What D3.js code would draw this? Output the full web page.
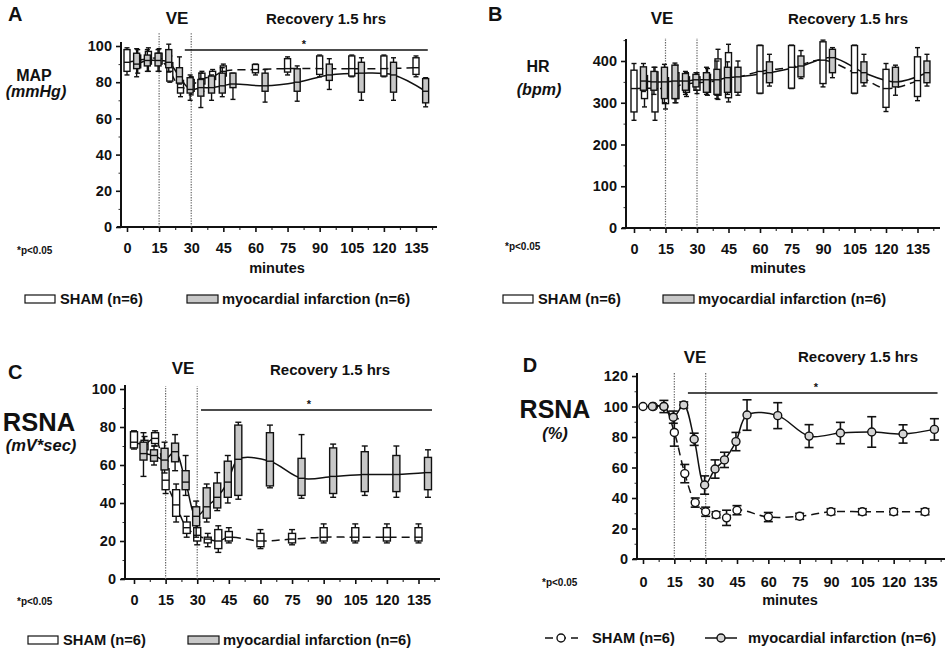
<!DOCTYPE html>
<html><head><meta charset="utf-8">
<script src="https://cdn.jsdelivr.net/npm/d3@7"></script>
<style>
body{margin:0;background:#fff;}
svg text{font-family:"Liberation Sans",Arial,sans-serif;font-weight:bold;fill:#111;}
</style></head><body>
<svg id="c" width="948" height="661"></svg>
<script>
// ---------------- DATA ----------------
const minuteTicks = [0,15,30,45,60,75,90,105,120,135];
const minorTicks = [7.5,22.5,37.5,52.5,67.5,82.5,97.5,112.5,127.5,142.5];
const timesSham = [0,5,10,15,20,25,30,35,40,45,60,75,90,105,120,135];
const timesMI = [4.5,9.5,14.5,19.5,24.5,29.5,34.5,39.5,44.5,49.5,64.5,79.5,94.5,109.5,124.5,139.5];
// box stats: [low whisker, q1, median, q3, high whisker]
const mapSham = [[84,86,91,98,99],[85,88,92,95,98],[86,90,93,97,99],[86,90,93,96,98.5],[80,80.6,86,90.8,94.5],[72,74,77,81,83],[73,75,78,81.5,83],[75,79,82,85,86],[78,81.5,83,86,87],[80,83.4,86,89,90],[84,85.2,87,89.8,90],[84,85.6,87.5,93,94],[83,84.3,87.5,94.5,95],[83,83.4,87.5,94.5,95],[83,83.4,87.5,94.5,95],[83,84.3,88,93.5,94.5]];
const mapMI = [[83,87.5,90,96,98.5],[86,89,92,95,98],[86,89,92,96,98],[85.6,88,91,98,101],[79,79.5,83,88,94],[70,74,76,82.5,84],[66,72.3,77,81.5,85],[70,74,77,83.4,84],[72,74,78,85,88],[70.5,77,79,85,85],[69,75,78,85,87],[69.5,75,80,87.4,89],[76,81,84,90,93],[70,74.5,85,91,93.5],[70,74.5,84,91,93.5],[66.4,68.6,75,82,82.5]];
const hrSham = [[258,278,334,378,394],[290,310,335,365,380],[258,278,334,374,385],[285,298,335,360,372],[300,310,340,372,390],[315,325,345,362,372],[322,330,348,362,372],[318,325,350,368,382],[308,318,352,405,428],[302,312,355,420,440],[322,323,375,437,438],[334,335,385,437,438],[338,346,402,446,450],[322,323,372,437,438],[279,289,334,380,394],[305,315,353,410,432]];
const hrMI = [[327,330,352,386,394],[320,330,350,375,385],[300,310,350,385,392],[300,310,352,390,395],[320,330,352,370,375],[330,338,355,368,372],[320,325,355,372,385],[310,320,355,380,400],[320,325,360,385,398],[318,325,362,385,400],[340,348,372,398,416],[358,362,388,412,425],[360,372,408,428,432],[340,348,372,398,416],[318,338,350,385,390],[340,348,372,400,416]];
const rsnaSham = [[68.4,69,72,77.5,78],[66,68,71,73,75],[70,71.3,74,77,78],[45,47,52,58,62],[30,33,39,47,50],[22,24,27,30,33],[18,20,23,27,30],[17,19,21,22,24],[14,16,20,26,28],[19,20,22,25,27],[16,17,20,24,26],[18,19,21,24,26],[19,20,22,27,29],[19,20,22,27,29],[19,20,22,27,29],[19,20,22,27,29]];
const rsnaMI = [[54,62.6,66,72,77],[60,62,65,68,70],[55.8,57.4,62.6,68.8,72],[57,61.7,67,71.5,76],[44,47,51,57,65],[22,28,33,38,41],[30,32,38,48,50],[36,37.4,43,50.5,56],[40,43,51,62,65],[42,44,63,81,82.5],[48,49,62,77,81],[42.5,44,53,63.5,76],[43,45,54,69,71],[44,46,55,67,70],[43,46,55,65,70],[43,47,56,64,68]];
// panel D: mean and error
const pctTimesSham = [0,5,10,15,20,25,30,35,40,45,60,75,90,105,120,135];
const pctSham = [100,100,100,83,56,37,31,29,27,32,27.5,28,31,31,31,31];
const pctShamErr = [0,0,4,9,6,3,3,2,5,3,3,2,2,2,2,2];
const pctTimesMI = [4.5,10,14.5,19.5,24.5,29.5,34.5,39,44.5,49.8,64.5,79.5,94.5,109.5,124.5,139.5];
const pctMI = [100,100,93,101,78.5,48.5,59,65,77,94.4,94,80.6,82.6,83.3,82,85];
const pctMIErr = [0,0,4,2,4,6,6,5,6,10,8.5,7.5,7,10,6,7];

// ---------------- DRAW ----------------
const svg = d3.select("#c");
const FONT = '"Liberation Sans",Arial,sans-serif';
const TICKFS = "14.5px";

function txt(x, y, s, size, opts={}) {
  const t = svg.append("text").attr("x", x).attr("y", y).text(s)
    .style("font-size", size + "px")
    .attr("text-anchor", opts.anchor || "start");
  if (opts.italic) t.style("font-style", "italic");
  return t;
}

function panelFrame(cfg) {
  const x = d3.scaleLinear().domain([0,135]).range(cfg.xr);
  const y = d3.scaleLinear().domain(cfg.yd).range(cfg.yr);
  const g = svg.append("g");
  const x0 = cfg.axisX, yb = y(0), ytop = cfg.yTop;
  const ya = g.append("g").attr("transform", `translate(${x0},0)`)
    .call(d3.axisLeft(y).tickValues(cfg.yTicks).tickSize(5).tickSizeOuter(0).tickPadding(4));
  ya.select(".domain").remove();
  ya.selectAll("line").attr("stroke","#111").attr("stroke-width",1.6);
  ya.selectAll("text").style("font-size",TICKFS).style("font-family",FONT).style("font-weight","bold");
  const ym = g.append("g").attr("transform", `translate(${x0},0)`)
    .call(d3.axisLeft(y).tickValues(cfg.yMinor).tickSize(2.5).tickFormat(""));
  ym.select(".domain").remove();
  ym.selectAll("line").attr("stroke","#333").attr("stroke-width",1);
  g.append("line").attr("x1",x0).attr("x2",x0).attr("y1",yb+1).attr("y2",ytop)
    .attr("stroke","#111").attr("stroke-width",2);
  const xa = g.append("g").attr("transform", `translate(0,${yb})`)
    .call(d3.axisBottom(x).tickValues(minuteTicks).tickSize(5).tickSizeOuter(0).tickPadding(cfg.xPad));
  xa.select(".domain").remove();
  xa.selectAll("line").attr("stroke","#111").attr("stroke-width",1.6);
  xa.selectAll("text").style("font-size",TICKFS).style("font-family",FONT).style("font-weight","bold");
  const xm = g.append("g").attr("transform", `translate(0,${yb})`)
    .call(d3.axisBottom(x).tickValues(minorTicks).tickSize(3).tickFormat(""));
  xm.select(".domain").remove();
  xm.selectAll("line").attr("stroke","#333").attr("stroke-width",1.2);
  g.append("line").attr("x1",x0-4).attr("x2",cfg.xEnd).attr("y1",yb).attr("y2",yb)
    .attr("stroke","#111").attr("stroke-width",2);
  [15,30].forEach(t => {
    g.append("line").attr("x1",x(t)).attr("x2",x(t)).attr("y1",yb).attr("y2",cfg.dotTop)
      .attr("stroke","#666").attr("stroke-width",1.2).attr("stroke-dasharray","1.3,1.3");
  });
  if (cfg.sig) {
    g.append("line").attr("x1",x(cfg.sig[0])).attr("x2",x(cfg.sig[1]))
      .attr("y1",cfg.sigY).attr("y2",cfg.sigY).attr("stroke","#111").attr("stroke-width",1.6);
    txt(cfg.starX, cfg.sigY - 2, "*", 11, {anchor:"middle"});
  }
  return {x, y, g};
}

function boxes(P, times, stats, fill, w) {
  const {x, y, g} = P;
  const bg = g.append("g");
  times.forEach((t, i) => {
    const s = stats[i], cx = x(t);
    const gg = bg.append("g").attr("stroke","#111").attr("stroke-width",1.4);
    gg.append("line").attr("x1",cx).attr("x2",cx).attr("y1",y(s[4])).attr("y2",y(s[3]));
    gg.append("line").attr("x1",cx).attr("x2",cx).attr("y1",y(s[1])).attr("y2",y(s[0]));
    gg.append("line").attr("x1",cx-w/2+0.5).attr("x2",cx+w/2-0.5).attr("y1",y(s[4])).attr("y2",y(s[4]));
    gg.append("line").attr("x1",cx-w/2+0.5).attr("x2",cx+w/2-0.5).attr("y1",y(s[0])).attr("y2",y(s[0]));
    gg.append("rect").attr("x",cx-w/2).attr("width",w).attr("y",y(s[3]))
      .attr("height",Math.max(1,y(s[1])-y(s[3]))).attr("fill",fill);
    gg.append("line").attr("x1",cx-w/2).attr("x2",cx+w/2).attr("y1",y(s[2])).attr("y2",y(s[2]));
  });
}

function medLine(P, times, vals, dashed) {
  const {x, y, g} = P;
  const line = d3.line().x((d,i)=>x(times[i])).y(d=>y(d)).curve(d3.curveCatmullRom.alpha(0.5));
  g.append("path").attr("d", line(vals)).attr("fill","none").attr("stroke","#111")
    .attr("stroke-width",1.5).attr("stroke-dasharray", dashed ? "8,5" : null);
}

function legendBoxes(x1, yL, x2) {
  svg.append("rect").attr("x",x1).attr("y",yL-4).attr("width",30).attr("height",8)
    .attr("fill","#fff").attr("stroke","#111").attr("stroke-width",1.2);
  txt(x1+35, yL+5, "SHAM (n=6)", 14.7);
  svg.append("rect").attr("x",x2).attr("y",yL-4).attr("width",31).attr("height",8)
    .attr("fill","#c8c8c8").attr("stroke","#111").attr("stroke-width",1.2);
  txt(x2+35, yL+5, "myocardial infarction (n=6)", 14.7);
}

const GRAY = "#c8c8c8";

// ---- Panel A ----
const PA = panelFrame({xr:[127,416], yd:[0,100], yr:[227,46], axisX:121, yTop:42, xEnd:437,
  yTicks:[0,20,40,60,80,100], yMinor:[10,30,50,70,90], xPad:11, dotTop:33,
  sig:[27,140.5], sigY:50, starX:304});
medLine(PA, timesSham, mapSham.map(d=>d[2]), true);
medLine(PA, timesMI, mapMI.map(d=>d[2]), false);
boxes(PA, timesSham, mapSham, "#fff", 6);
boxes(PA, timesMI, mapMI, GRAY, 6);
txt(8, 21, "A", 20);
txt(177, 24, "VE", 17, {anchor:"middle"});
txt(326, 24, "Recovery 1.5 hrs", 15, {anchor:"middle"});
txt(34, 81, "MAP", 16, {anchor:"middle"});
txt(36, 97, "(mmHg)", 16, {anchor:"middle", italic:true});
txt(17, 254, "*p<0.05", 10);
txt(277, 273, "minutes", 14.5, {anchor:"middle"});
legendBoxes(25, 299, 187);

// ---- Panel B ----
const PB = panelFrame({xr:[634,917.5], yd:[0,400], yr:[228,61], axisX:626, yTop:39, xEnd:940,
  yTicks:[0,100,200,300,400], yMinor:[50,150,250,350,450], xPad:11, dotTop:38});
medLine(PB, timesSham, hrSham.map(d=>d[2]), true);
medLine(PB, timesMI, hrMI.map(d=>d[2]), false);
boxes(PB, timesSham, hrSham, "#fff", 6);
boxes(PB, timesMI, hrMI, GRAY, 6);
txt(488, 21, "B", 20);
txt(662, 24, "VE", 17, {anchor:"middle"});
txt(848, 24, "Recovery 1.5 hrs", 15, {anchor:"middle"});
txt(538, 72, "HR", 16, {anchor:"middle"});
txt(539, 95, "(bpm)", 16, {anchor:"middle", italic:true});
txt(505, 250, "*p<0.05", 10);
txt(778, 273, "minutes", 14.5, {anchor:"middle"});
legendBoxes(503, 299, 663);

// ---- Panel C ----
const PC = panelFrame({xr:[134,418.5], yd:[0,100], yr:[579,389], axisX:125, yTop:385, xEnd:440,
  yTicks:[0,20,40,60,80,100], yMinor:[10,30,50,70,90], xPad:11, dotTop:386,
  sig:[31.8,141.4], sigY:410, starX:309});
medLine(PC, timesSham, rsnaSham.map(d=>d[2]), true);
medLine(PC, timesMI, rsnaMI.map(d=>d[2]), false);
boxes(PC, timesSham, rsnaSham, "#fff", 7);
boxes(PC, timesMI, rsnaMI, GRAY, 7);
txt(8, 379, "C", 20);
txt(183, 374, "VE", 17, {anchor:"middle"});
txt(330, 375, "Recovery 1.5 hrs", 15, {anchor:"middle"});
txt(39, 431, "RSNA", 25.5, {anchor:"middle"});
txt(41, 451, "(mV*sec)", 16.5, {anchor:"middle", italic:true});
txt(17, 605, "*p<0.05", 10);
legendBoxes(28, 640, 188);

// ---- Panel D ----
const PD = panelFrame({xr:[643,925], yd:[0,120], yr:[559,376], axisX:637, yTop:373, xEnd:945,
  yTicks:[0,20,40,60,80,100,120], yMinor:[10,30,50,70,90,110], xPad:13, dotTop:373,
  sig:[21.5,141], sigY:393, starX:816});
function meanErr(P, times, vals, errs, fill, dashed) {
  const {x, y, g} = P;
  const line = d3.line().x((d,i)=>x(times[i])).y(d=>y(d)).curve(d3.curveCatmullRom.alpha(0.5));
  g.append("path").attr("d", line(vals)).attr("fill","none").attr("stroke","#111")
    .attr("stroke-width",1.5).attr("stroke-dasharray", dashed ? "8,5" : null);
  times.forEach((t,i) => {
    const cx = x(t), e = errs[i];
    if (e > 0) {
      const gg = g.append("g").attr("stroke","#111").attr("stroke-width",1.6);
      gg.append("line").attr("x1",cx).attr("x2",cx).attr("y1",y(vals[i]+e)).attr("y2",y(vals[i]-e));
      gg.append("line").attr("x1",cx-4.5).attr("x2",cx+4.5).attr("y1",y(vals[i]+e)).attr("y2",y(vals[i]+e));
      gg.append("line").attr("x1",cx-4.5).attr("x2",cx+4.5).attr("y1",y(vals[i]-e)).attr("y2",y(vals[i]-e));
    }
    g.append("circle").attr("cx",cx).attr("cy",y(vals[i])).attr("r",4)
      .attr("fill",fill).attr("stroke","#111").attr("stroke-width",1.4);
  });
}
meanErr(PD, pctTimesSham, pctSham, pctShamErr, "#fff", true);
meanErr(PD, pctTimesMI, pctMI, pctMIErr, "#d4d4d4", false);
txt(530, 372, "D", 20, {anchor:"middle"});
txt(695, 363, "VE", 17, {anchor:"middle"});
txt(858, 362, "Recovery 1.5 hrs", 15, {anchor:"middle"});
txt(555, 418, "RSNA", 25, {anchor:"middle"});
txt(555, 439, "(%)", 16.5, {anchor:"middle", italic:true});
txt(542, 586, "*p<0.05", 10);
txt(790, 605, "minutes", 14.5, {anchor:"middle"});
// legend D
svg.append("line").attr("x1",545).attr("x2",578).attr("y1",638).attr("y2",638)
  .attr("stroke","#111").attr("stroke-width",1.5).attr("stroke-dasharray","8,5");
svg.append("circle").attr("cx",561).attr("cy",638).attr("r",4).attr("fill","#fff").attr("stroke","#111").attr("stroke-width",1.4);
txt(592, 643, "SHAM (n=6)", 14.7);
svg.append("line").attr("x1",705).attr("x2",737).attr("y1",638).attr("y2",638)
  .attr("stroke","#111").attr("stroke-width",1.5);
svg.append("circle").attr("cx",721).attr("cy",638).attr("r",4).attr("fill","#d4d4d4").attr("stroke","#111").attr("stroke-width",1.4);
txt(748, 643, "myocardial infarction (n=6)", 14.7);
</script>
</body></html>
